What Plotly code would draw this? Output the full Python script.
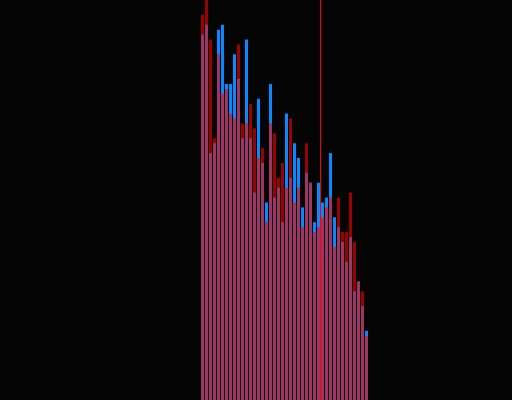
import plotly.graph_objects as go

# histogram bins (index) and counts
bins = list(range(42))
blue_counts = [74, 76, 50, 52, 75, 76, 64, 64, 70, 65,
               53, 73, 53, 42, 61, 48, 40, 64, 41, 43,
               36, 58, 45, 52, 49, 39, 46, 44, 36, 44,
               40, 41, 50, 37, 35, 32, 28, 33, 22, 24,
               19, 14]
red_counts = [78, 81, 73, 53, 70, 62, 63, 58, 57, 72,
              56, 56, 60, 55, 49, 51, 36, 56, 54, 45,
              48, 43, 57, 40, 43, 35, 52, 44, 34, 35,
              37, 39, 41, 31, 41, 34, 34, 42, 32, 24,
              22, 13]
marker_x = 29.5

fig = go.Figure()
fig.add_trace(go.Bar(x=bins, y=blue_counts, marker_color="#0a88ff",
                     marker_line_width=0))
fig.add_trace(go.Bar(x=bins, y=red_counts, marker_color="#ff0000",
                     marker_line_width=0, opacity=0.6))

fig.add_shape(type="line", x0=marker_x, x1=marker_x, y0=0, y1=1,
              xref="x", yref="paper", line=dict(color="#ff0000", width=1))

fig.update_layout(
    width=512, height=400,
    barmode="overlay", bargap=0.25,
    showlegend=False,
    plot_bgcolor="#050505",
    paper_bgcolor="#050505",
    margin=dict(l=0, r=0, t=0, b=0),
)
fig.update_xaxes(range=[-50.625, 77.375], visible=False, showgrid=False)
fig.update_yaxes(range=[0, 81], visible=False, showgrid=False)

fig.write_html("out.html",
               config={"displayModeBar": False},
               post_script="document.body.style.margin='0';"
                           "document.body.style.background='#050505';")
